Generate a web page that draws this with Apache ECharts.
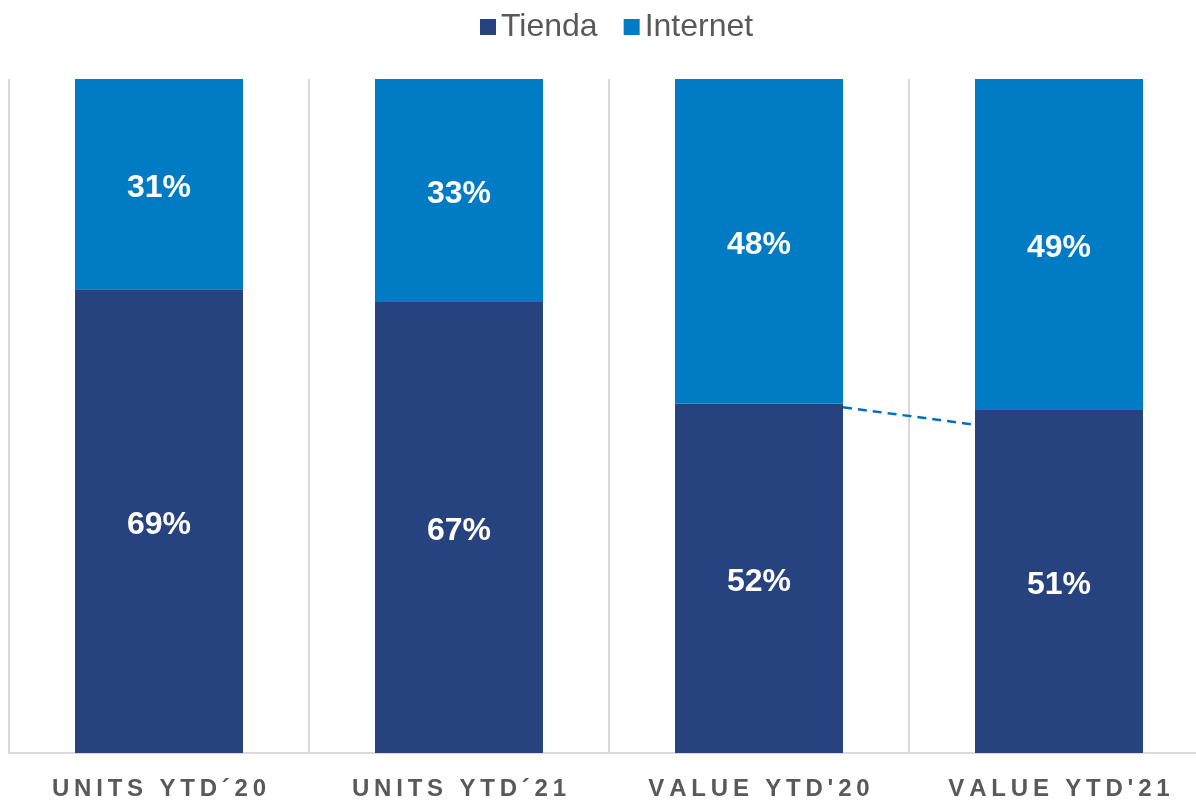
<!DOCTYPE html>
<html>
<head>
<meta charset="utf-8">
<script src="https://cdn.jsdelivr.net/npm/echarts@6/dist/echarts.min.js"></script>
<style>
  html, body { margin: 0; padding: 0; background: #fff; }
  #chart { width: 1196px; height: 802px; }
</style>
</head>
<body>
<div id="chart"></div>
<script>
// categorias y valores (% sobre el total)
var categories = ['UNITS YTD\u00b420', 'UNITS YTD\u00b421', "VALUE YTD'20", "VALUE YTD'21"];
var tienda = [68.8, 66.9, 51.8, 50.9];
var internet = [31.2, 33.1, 48.2, 49.1];
// linea discontinua entre barras (indice origen, destino, valor inicio, valor fin)
var connector = [[2, 3, 51.3, 48.7]];

var colorTienda = '#26427F';
var colorInternet = '#017BC3';

var myChart = echarts.init(document.getElementById('chart'));

function spaced(s) {
    // espaciado entre letras de las etiquetas del eje
    return s.split('').join('\u2009');
}

var labelOpt = {
    show: true,
    position: 'inside',
    offset: [0, 4],
    color: '#fff',
    fontSize: 32,
    fontWeight: 'bold',
    fontFamily: 'Liberation Sans, Arial, sans-serif',
    formatter: function (p) { return Math.round(p.value) + '%'; }
};

var option = {
    animation: false,
    legend: {
        top: 6,
        left: 475,
        itemWidth: 16,
        itemHeight: 16,
        itemGap: 26,
        icon: 'rect',
        textStyle: {
            color: '#595959',
            fontSize: 32,
            fontFamily: 'Liberation Sans, Arial, sans-serif'
        },
        data: ['Tienda', 'Internet']
    },
    grid: {
        left: 9,
        top: 79,
        width: 1200,
        height: 674,
        outerBoundsMode: 'none'
    },
    xAxis: {
        type: 'category',
        data: categories,
        axisLine: { lineStyle: { color: '#D9D9D9', width: 2 } },
        axisTick: { show: false },
        splitLine: { show: true, lineStyle: { color: '#D9D9D9', width: 2 } },
        axisLabel: {
            margin: 24,
            color: '#595959',
            fontSize: 24,
            fontWeight: 'bold',
            fontFamily: 'Liberation Sans, Arial, sans-serif',
            formatter: spaced
        }
    },
    yAxis: {
        type: 'value',
        min: 0,
        max: 100,
        show: false,
        splitLine: { show: false }
    },
    series: [
        {
            name: 'Tienda',
            type: 'bar',
            stack: 'total',
            barWidth: '56%',
            itemStyle: { color: colorTienda },
            label: labelOpt,
            data: tienda
        },
        {
            name: 'Internet',
            type: 'bar',
            stack: 'total',
            barWidth: '56%',
            itemStyle: { color: colorInternet },
            label: labelOpt,
            data: internet
        },
        {
            type: 'custom',
            silent: true,
            z: 5,
            data: connector,
            renderItem: function (params, api) {
                var half = api.size([1, 0])[0] * 0.56 / 2;
                var p1 = api.coord([api.value(0), api.value(2)]);
                var p2 = api.coord([api.value(1), api.value(3)]);
                return {
                    type: 'line',
                    shape: { x1: p1[0] + half, y1: p1[1], x2: p2[0] - half, y2: p2[1] },
                    style: { stroke: '#0070C0', lineWidth: 2.5, lineDash: [9, 6] }
                };
            }
        }
    ]
};

myChart.setOption(option);
</script>
</body>
</html>
